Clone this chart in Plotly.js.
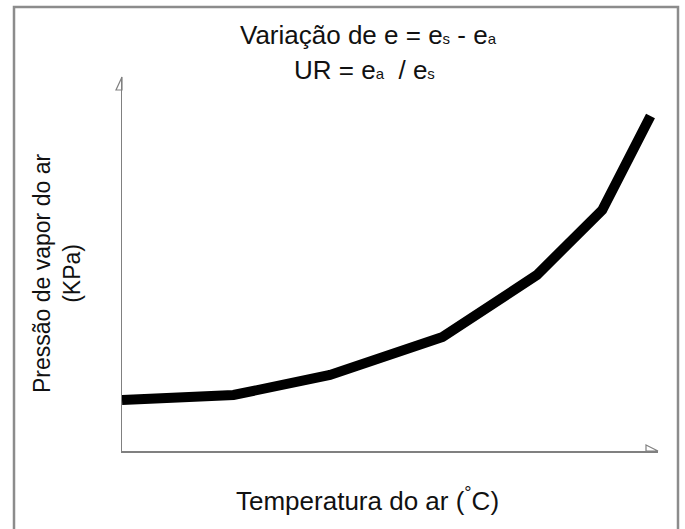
<!DOCTYPE html>
<html>
<head>
<meta charset="utf-8">
<script src="https://cdn.plot.ly/plotly-3.0.1.min.js"></script>
<style>html,body{margin:0;padding:0;background:#fff;}#chart{width:685px;height:529px;}</style>
</head>
<body>
<div id="chart"></div>
<script>
// Schematic values
var temperatura = [0, 10.4, 19.4, 29.9, 38.7, 44.8, 49.3];
var pressao = [0.51, 0.56, 0.76, 1.14, 1.76, 2.41, 3.35];

function ind(t) { return '<span style="font-size:15px">' + t + '</span>'; }
var tituloLinha1 = 'Variação de e = e' + ind('s') + ' - e' + ind('a');
var tituloLinha2 = 'UR = e' + ind('a') + '  / e' + ind('s');
var tituloX = 'Temperatura do ar (<sup>°</sup>C)';
var tituloY = 'Pressão de vapor do ar<br>(KPa)';

var fonte = 'Liberation Sans, Arial, sans-serif';
var corTexto = '#111111';

var trace = {
  x: temperatura,
  y: pressao,
  type: 'scatter',
  mode: 'lines',
  line: {color: '#000', width: 10},
  hoverinfo: 'skip'
};

var layout = {
  width: 685, height: 529,
  margin: {l: 122, r: 27, t: 77, b: 78},
  paper_bgcolor: '#fff', plot_bgcolor: '#fff',
  showlegend: false,
  font: {family: fonte, color: corTexto},
  xaxis: {range: [0, 50], showgrid: false, zeroline: false, showticklabels: false, ticks: '',
          showline: true, linecolor: '#808080', linewidth: 1.5, fixedrange: true},
  yaxis: {range: [0, 3.74], showgrid: false, zeroline: false, showticklabels: false, ticks: '',
          showline: true, linecolor: '#808080', linewidth: 1.5, fixedrange: true},
  annotations: [
    {text: tituloLinha1, xref: 'paper', yref: 'paper', x: (368 - 122) / 536, y: (451 - 35) / 374,
     xanchor: 'center', yanchor: 'middle', showarrow: false, font: {size: 26, family: fonte, color: corTexto}},
    {text: tituloLinha2, xref: 'paper', yref: 'paper', x: (364 - 122) / 536, y: (451 - 70) / 374,
     xanchor: 'center', yanchor: 'middle', showarrow: false, font: {size: 26, family: fonte, color: corTexto}},
    {text: tituloX, xref: 'paper', yref: 'paper', x: (367 - 122) / 536, y: (451 - 499) / 374,
     xanchor: 'center', yanchor: 'middle', showarrow: false, font: {size: 26, family: fonte, color: corTexto}},
    {text: tituloY, xref: 'paper', yref: 'paper', x: (57 - 122) / 536, y: (451 - 274) / 374,
     xanchor: 'center', yanchor: 'middle', textangle: -90, showarrow: false, font: {size: 23, family: fonte, color: corTexto}}
  ],
  shapes: [
    // outer frame
    {type: 'rect', xref: 'paper', yref: 'paper', x0: (14 - 122) / 536, x1: (678 - 122) / 536,
     y0: (451 - 533) / 374, y1: (451 - 7) / 374, line: {color: '#8c8c8c', width: 2.5}},
    // half arrowhead on y axis
    {type: 'path', xref: 'paper', yref: 'paper',
     path: 'M 0 1 L ' + (-6 / 536) + ' ' + ((451 - 90) / 374) + ' L 0 ' + ((451 - 90) / 374) + ' Z',
     line: {color: '#808080', width: 1.2}, fillcolor: 'rgba(0,0,0,0)'},
    // half arrowhead on x axis
    {type: 'path', xref: 'paper', yref: 'paper',
     path: 'M ' + ((646 - 122) / 536) + ' ' + (6 / 374) + ' L 1 0 L ' + ((646 - 122) / 536) + ' 0 Z',
     line: {color: '#808080', width: 1.2}, fillcolor: 'rgba(0,0,0,0)'}
  ]
};

Plotly.newPlot('chart', [trace], layout, {displayModeBar: false, staticPlot: true});
</script>
</body>
</html>
